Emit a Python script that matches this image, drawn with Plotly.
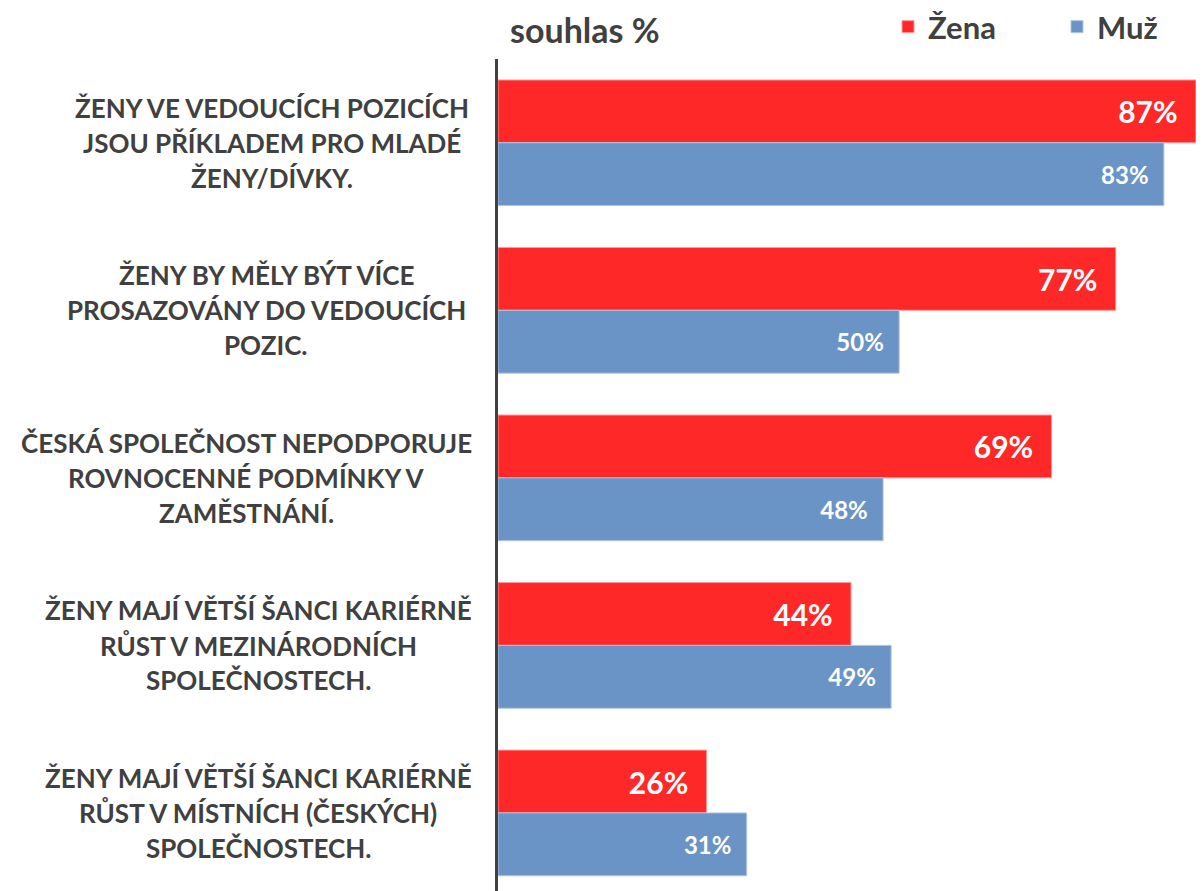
import plotly.graph_objects as go

# --- Datos ---
statements = [
    ["ŽENY VE VEDOUCÍCH POZICÍCH", "JSOU PŘÍKLADEM PRO MLADÉ", "ŽENY/DÍVKY."],
    ["ŽENY BY MĚLY BÝT VÍCE", "PROSAZOVÁNY DO VEDOUCÍCH", "POZIC."],
    ["ČESKÁ SPOLEČNOST NEPODPORUJE", "ROVNOCENNÉ PODMÍNKY V", "ZAMĚSTNÁNÍ."],
    ["ŽENY MAJÍ VĚTŠÍ ŠANCI KARIÉRNĚ", "RŮST V MEZINÁRODNÍCH", "SPOLEČNOSTECH."],
    ["ŽENY MAJÍ VĚTŠÍ ŠANCI KARIÉRNĚ", "RŮST V MÍSTNÍCH (ČESKÝCH)", "SPOLEČNOSTECH."],
]
zena = [87, 77, 69, 44, 26]
muz = [83, 50, 48, 49, 31]

cats = [f"q{i}" for i in range(len(statements))]

FONT = "Lato, 'Open Sans', sans-serif"
GREY = "#404040"
RED = "#FF2828"
BLUE = "#6A93C6"
NB = "\u00a0"

# la página tiene 8px de margen en el body
W, H = 1196, 883
L, T = 490, 51
PLOT_W = W - L
PLOT_H = H - T

fig = go.Figure()
fig.add_trace(
    go.Bar(
        y=cats, x=zena, orientation="h", name="Žena",
        marker=dict(color=RED, line=dict(color="#FF9A9A", width=1)),
        text=[f"<b>{v}%</b>{NB*2}" for v in zena],
        textposition="inside", insidetextanchor="end",
        textfont=dict(family=FONT, size=30, color="white"),
        hoverinfo="skip",
    )
)
fig.add_trace(
    go.Bar(
        y=cats, x=muz, orientation="h", name="Muž",
        marker=dict(color=BLUE, line=dict(color="#AFC4E2", width=1)),
        text=[f"<b>{v}%</b>{NB*2}" for v in muz],
        textposition="inside", insidetextanchor="end",
        textfont=dict(family=FONT, size=24, color="white"),
        hoverinfo="skip",
    )
)

# Etiquetas de categorías (centradas, bloque alineado a la derecha)
label_centers = [264, 258, 238, 250, 250]
for cat, lines, cx in zip(cats, statements, label_centers):
    for j, line in enumerate(lines):
        fig.add_annotation(
            x=0, xref="paper", y=cat, yref="y",
            xshift=cx - L, yshift=(1 - j) * 35,
            text=f"<b>{line}</b>", showarrow=False,
            xanchor="center", yanchor="middle",
            font=dict(family=FONT, size=26, color=GREY),
        )

fig.add_annotation(
    x=0, xref="paper", xshift=500 - L,
    y=1, yref="paper", yshift=T - 21,
    text="<b>souhlas %</b>", showarrow=False,
    xanchor="left", yanchor="middle",
    font=dict(family=FONT, size=34, color=GREY),
)

fig.update_layout(
    width=W, height=H,
    margin=dict(l=L, r=0, t=T, b=0, autoexpand=False),
    paper_bgcolor="white", plot_bgcolor="white",
    barmode="group", bargap=0.25, bargroupgap=0,
    showlegend=True,
    legend=dict(
        orientation="h", x=(880 - L) / PLOT_W, xanchor="left",
        y=1 + (T - 19) / PLOT_H, yanchor="middle",
        font=dict(family=FONT, size=31, color=GREY, weight="bold"),
        entrywidth=124, itemwidth=30,
    ),
    xaxis=dict(range=[0, 88.0], visible=False),
    yaxis=dict(
        range=[4.466, -0.5], showticklabels=False, showgrid=False,
        showline=True, linecolor=GREY, linewidth=3, automargin=False,
    ),
)

fig.write_html("out.html")
